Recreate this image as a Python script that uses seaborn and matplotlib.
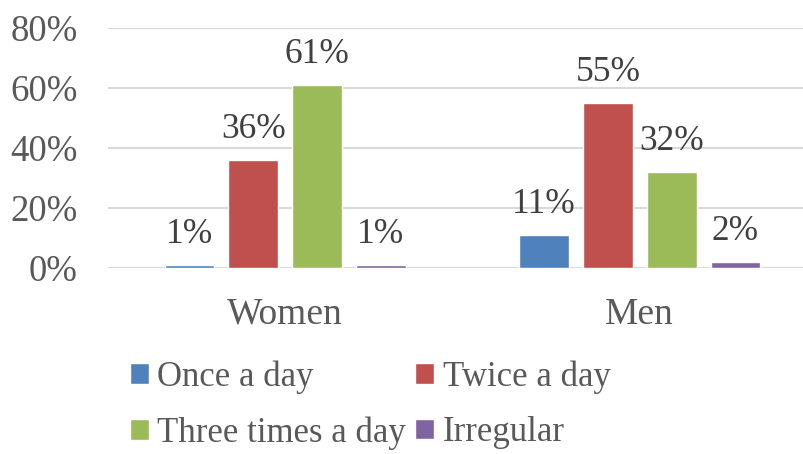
import numpy as np
import pandas as pd
import matplotlib
matplotlib.use("Agg")
import matplotlib.pyplot as plt
import seaborn as sns

groups = ["Women", "Men"]
freqs = ["Once a day", "Twice a day", "Three times a day", "Irregular"]
once = [0.01, 0.11]
twice = [0.36, 0.55]
three = [0.61, 0.32]
irregular = [0.01, 0.02]
colors = ["#4F81BD", "#C0504D", "#9BBB59", "#8064A2"]

rows = []
for f, vals in zip(freqs, [once, twice, three, irregular]):
    for g, v in zip(groups, vals):
        rows.append({"group": g, "freq": f, "value": v})
df = pd.DataFrame(rows)

sns.set_style("white")
plt.rcParams["font.family"] = ["Liberation Serif", "DejaVu Serif"]

fig = plt.figure(figsize=(8.04, 4.54), dpi=100)
ax = fig.add_axes([108 / 804, 1 - 268 / 454, 709 / 804, 240 / 454])

sns.barplot(data=df, x="group", y="value", hue="freq", order=groups,
            hue_order=freqs, palette=colors, width=0.72, gap=0.22,
            saturation=1, ax=ax)

ax.set_ylim(0, 0.8)
ax.set_xlim(-0.5, 1.5)
ax.set_yticks([0, 0.2, 0.4, 0.6, 0.8])
ax.set_yticklabels(["0%", "20%", "40%", "60%", "80%"])
ax.yaxis.grid(True, color="#D9D9D9", linewidth=1.5)
ax.set_axisbelow(True)
for s in ax.spines.values():
    s.set_visible(False)
ax.tick_params(axis="y", length=0, pad=22, labelsize=26.5, labelcolor="#595959")
ax.tick_params(axis="x", length=0, pad=21, labelsize=27, labelcolor="#595959")
ax.set_xlabel("")
ax.set_ylabel("")

for cont, vals in zip(ax.containers, [once, twice, three, irregular]):
    ax.bar_label(cont, labels=[f"{round(v * 100)}%" for v in vals],
                 padding=10, fontsize=25.5, color="#404040")

handles, labels = ax.get_legend_handles_labels()
ax.get_legend().remove()
# row-major order for a 2-column legend
order = [0, 2, 1, 3]
fig.legend([handles[i] for i in order], [labels[i] for i in order],
           loc="center", bbox_to_anchor=(370 / 804, 0.108),
           ncol=2, frameon=False, fontsize=25, handlelength=0.55,
           handleheight=0.55, handletextpad=0.25, columnspacing=0.25,
           labelspacing=0.65, labelcolor="#595959")

fig.savefig("out.png", dpi=100)
